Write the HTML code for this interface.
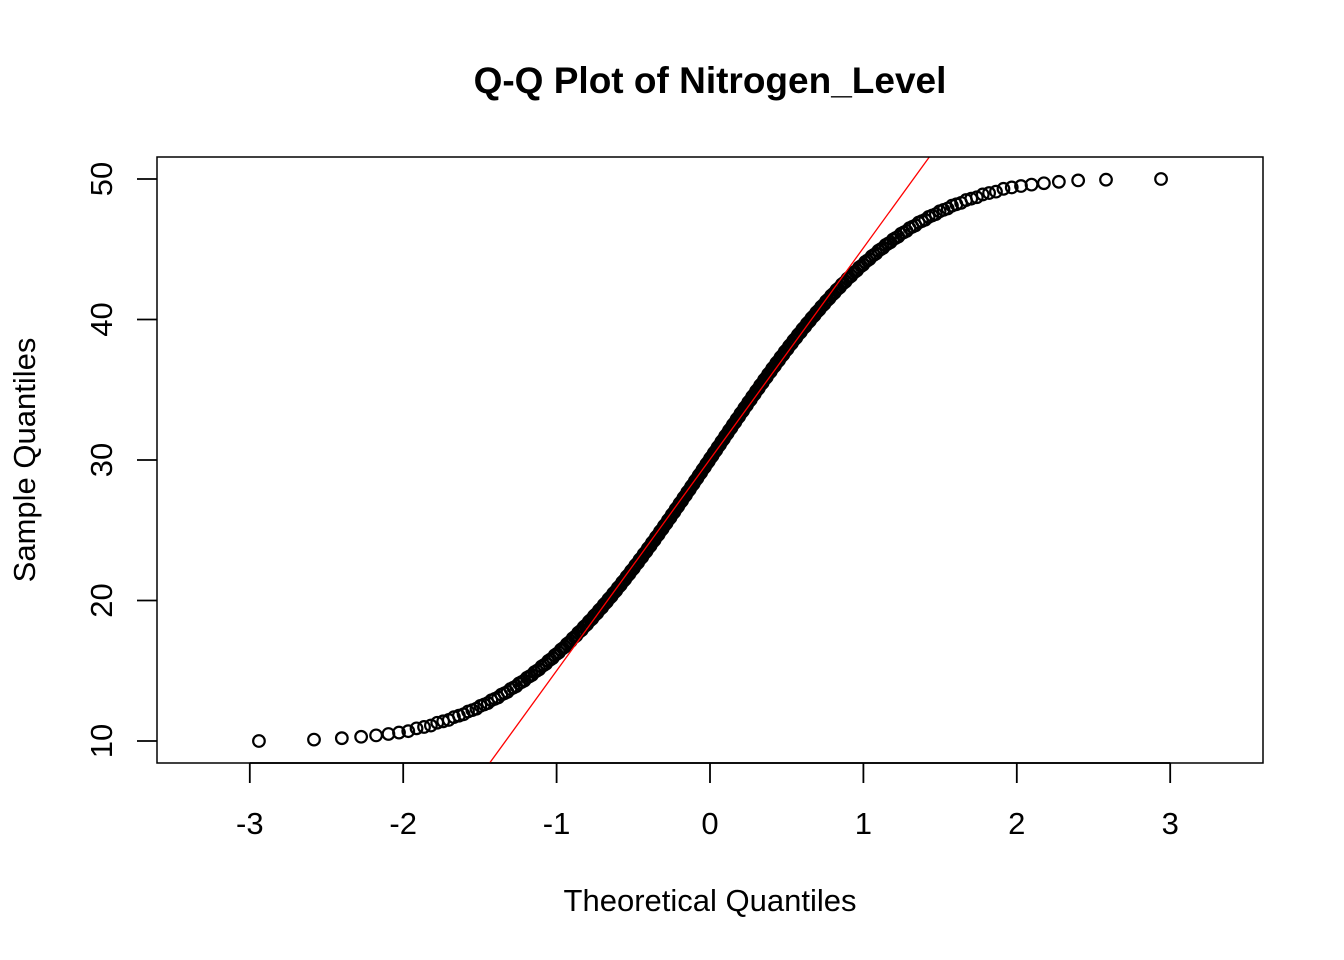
<!DOCTYPE html>
<html><head><meta charset="utf-8"><style>
html,body{margin:0;padding:0;background:#fff;overflow:hidden;width:1344px;height:960px;}
svg{display:block;}
svg text{font-family:"Liberation Sans",Arial,sans-serif;}
</style></head><body>
<svg id="chart" width="1344" height="960" viewBox="0 0 1344 960" xmlns="http://www.w3.org/2000/svg">
<rect width="1344" height="960" fill="#fff"/>
<text x="710" y="93" font-size="37" font-weight="bold" text-anchor="middle">Q-Q Plot of Nitrogen_Level</text>
<text x="710" y="911" font-size="31" text-anchor="middle">Theoretical Quantiles</text>
<text transform="translate(35,460) rotate(-90)" font-size="31" text-anchor="middle">Sample Quantiles</text>
<defs><clipPath id="clip"><rect x="157" y="157" width="1106" height="606"/></clipPath></defs>
<g id="xaxis"></g>
<g id="yaxis"></g>
<g id="points"></g>
<g id="lineg" clip-path="url(#clip)"></g>
<rect x="157" y="157" width="1106" height="606" fill="none" stroke="#000" stroke-width="1.5"/>
</svg>
<script>
const sampleValues = [
10.0,10.1,10.2,10.3,10.4,10.5,10.6,10.7,10.9,11.0,11.1,11.3,11.4,11.5,11.7,11.8,11.9,
12.1,12.2,12.3,12.5,12.6,12.7,12.9,13.0,13.1,13.3,13.4,13.5,13.7,13.8,13.9,
14.1,14.2,14.3,14.5,14.6,14.7,14.9,15.0,15.1,15.3,15.4,15.5,15.7,15.8,15.9,
16.1,16.2,16.3,16.5,16.6,16.7,16.9,17.0,17.1,17.3,17.4,17.5,17.7,17.8,17.9,
18.1,18.2,18.3,18.5,18.6,18.7,18.9,19.0,19.1,19.3,19.4,19.5,19.7,19.8,19.9,
20.1,20.2,20.3,20.5,20.6,20.7,20.9,21.0,21.1,21.3,21.4,21.5,21.7,21.8,21.9,
22.1,22.2,22.3,22.5,22.6,22.7,22.9,23.0,23.1,23.3,23.4,23.5,23.7,23.8,23.9,
24.1,24.2,24.3,24.5,24.6,24.7,24.9,25.0,25.1,25.3,25.4,25.5,25.7,25.8,25.9,
26.1,26.2,26.3,26.5,26.6,26.7,26.9,27.0,27.1,27.3,27.4,27.5,27.7,27.8,27.9,
28.1,28.2,28.3,28.5,28.6,28.7,28.9,29.0,29.1,29.3,29.4,29.5,29.7,29.8,29.9,
30.1,30.2,30.3,30.5,30.6,30.7,30.9,31.0,31.1,31.3,31.4,31.5,31.7,31.8,31.9,
32.1,32.2,32.3,32.5,32.6,32.7,32.9,33.0,33.1,33.3,33.4,33.5,33.7,33.8,33.9,
34.1,34.2,34.3,34.5,34.6,34.7,34.9,35.0,35.1,35.3,35.4,35.5,35.7,35.8,35.9,
36.1,36.2,36.3,36.5,36.6,36.7,36.9,37.0,37.1,37.3,37.4,37.5,37.7,37.8,37.9,
38.1,38.2,38.3,38.5,38.6,38.7,38.9,39.0,39.1,39.3,39.4,39.5,39.7,39.8,39.9,
40.1,40.2,40.3,40.5,40.6,40.7,40.9,41.0,41.1,41.3,41.4,41.5,41.7,41.8,41.9,
42.1,42.2,42.3,42.5,42.6,42.7,42.9,43.0,43.1,43.3,43.4,43.5,43.7,43.8,43.9,
44.1,44.2,44.3,44.5,44.6,44.7,44.9,45.0,45.1,45.3,45.4,45.5,45.7,45.8,45.9,
46.1,46.2,46.3,46.5,46.6,46.7,46.9,47.0,47.1,47.3,47.4,47.5,47.7,47.8,47.9,
48.1,48.2,48.3,48.5,48.6,48.7,48.9,49.0,49.1,49.3,49.4,49.5,49.6,49.7,49.8,49.9,49.95,50.0
];
const xTicks = [-3,-2,-1,0,1,2,3];
const yTicks = [10,20,30,40,50];

const NS = "http://www.w3.org/2000/svg";
function xs(v){return 710 + v*153.4;}
function ys(v){return 741 - (v-10)*14.05;}
function qnorm(p){
  const a=[-39.6968302866538,220.946098424521,-275.928510446969,138.357751867269,-30.6647980661472,2.50662827745924];
  const b=[-54.4760987982241,161.585836858041,-155.698979859887,66.8013118877197,-13.2806815528857];
  const c=[-0.00778489400243029,-0.322396458041136,-2.40075827716184,-2.54973253934373,4.37466414146497,2.93816398269878];
  const d=[0.00778469570904146,0.32246712907004,2.445134137143,3.75440866190742];
  let q,r;
  if(p<0.02425){q=Math.sqrt(-2*Math.log(p));return (((((c[0]*q+c[1])*q+c[2])*q+c[3])*q+c[4])*q+c[5])/((((d[0]*q+d[1])*q+d[2])*q+d[3])*q+1);}
  if(p>1-0.02425){q=Math.sqrt(-2*Math.log(1-p));return -(((((c[0]*q+c[1])*q+c[2])*q+c[3])*q+c[4])*q+c[5])/((((d[0]*q+d[1])*q+d[2])*q+d[3])*q+1);}
  q=p-0.5;r=q*q;
  return (((((a[0]*r+a[1])*r+a[2])*r+a[3])*r+a[4])*r+a[5])*q/(((((b[0]*r+b[1])*r+b[2])*r+b[3])*r+b[4])*r+1);
}
function mk(tag,attrs,parent){const e=document.createElementNS(NS,tag);for(const k in attrs)e.setAttribute(k,attrs[k]);parent.appendChild(e);return e;}

const xg=document.getElementById('xaxis');
xTicks.forEach(t=>{
  const l=mk('line',{x1:xs(t),x2:xs(t),y1:763,y2:783,stroke:'#000','stroke-width':1.8},xg);
  
  
  const tx=mk('text',{x:xs(t),y:834,'font-size':31,'text-anchor':'middle'},xg);
  tx.textContent=String(t);
  
  
});
mk('line',{x1:xs(-3),x2:xs(3),y1:763,y2:763,stroke:'#000','stroke-width':1.8},xg);
const yg=document.getElementById('yaxis');
yTicks.forEach(t=>{
  const l=mk('line',{x1:137,x2:157,y1:ys(t),y2:ys(t),stroke:'#000','stroke-width':1.8},yg);
  
  
  const tx=mk('text',{transform:`translate(112,${ys(t)}) rotate(-90)`,'font-size':31,'text-anchor':'middle'},yg);
  tx.textContent=String(t);
  
  
});

const sorted=sampleValues.slice().sort((a,b)=>a-b);
const n=sorted.length;
const pg=document.getElementById('points');
sorted.forEach((v,i)=>{
  const z=qnorm((i+0.5)/n);
  const c=mk('circle',{cx:xs(z),cy:ys(v),r:5.8,fill:'none',stroke:'#000','stroke-width':2.2},pg);
  
  
});
function quant(p){const h=(n-1)*p,lo=Math.floor(h);return sorted[lo]+(h-lo)*(sorted[Math.min(lo+1,n-1)]-sorted[lo]);}
const q1=quant(0.25),q3=quant(0.75),z1=qnorm(0.25),z3=qnorm(0.75);
const slope=(q3-q1)/(z3-z1),inter=q1-slope*z1;
const ln=mk('line',{x1:xs(-4),y1:ys(inter+slope*-4),x2:xs(4),y2:ys(inter+slope*4),stroke:'#ff0000','stroke-width':1.3},document.getElementById('lineg'));


</script>
</body></html>
